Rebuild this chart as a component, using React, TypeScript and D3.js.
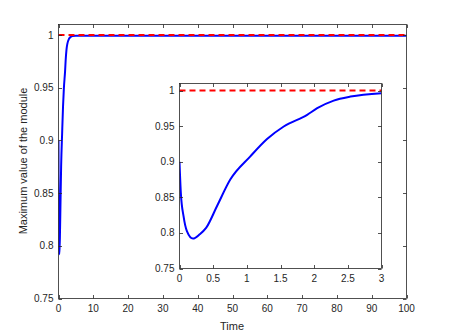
import React, { useEffect, useRef } from 'react';
import * as d3 from 'd3';

// maximum module over time
const times = [0, 0.02, 0.06, 0.11, 0.2, 0.3, 0.395, 0.556, 0.754, 1.052, 1.3, 1.548, 1.896, 2.045, 2.29, 2.54, 3, 3.5, 4, 5, 7, 10, 20, 50, 100];
const values = [0.9, 0.856, 0.8235, 0.8025, 0.792, 0.798, 0.807, 0.8375, 0.875, 0.9076, 0.932, 0.9496, 0.966, 0.9753, 0.986, 0.9916, 0.9963, 0.9982, 0.999, 0.9993, 0.9993, 0.9993, 0.9993, 0.9993, 0.9993];
const reference = 1;

const mainXTicks = [0, 10, 20, 30, 40, 50, 60, 70, 80, 90, 100];
const mainYTicks = [0.75, 0.8, 0.85, 0.9, 0.95, 1];
const insetXTicks = [0, 0.5, 1, 1.5, 2, 2.5, 3];
const insetYTicks = [0.75, 0.8, 0.85, 0.9, 0.95, 1];

const FONT = '"Liberation Sans", Arial, sans-serif';
const AXIS = '#262626';

const Chart = () => {
  const svgRef = useRef<SVGSVGElement>(null);

  useEffect(() => {
    const svg = d3.select(svgRef.current);
    svg.selectAll('*').remove();
    svg.append('rect').attr('width', 449).attr('height', 336).attr('fill', 'white');

    const data = times.map((t, i) => ({ t, v: values[i] }));

    const drawAxes = (opts: {
      left: number; right: number; top: number; bottom: number;
      xDomain: [number, number]; xTicks: number[]; yTicks: number[];
    }) => {
      const { left, right, top, bottom } = opts;
      const x = d3.scaleLinear().domain(opts.xDomain).range([left, right]);
      const y = d3.scaleLinear().domain([0.75, 1.01]).range([bottom, top]);
      const g = svg.append('g');
      g.append('rect')
        .attr('x', left).attr('y', top)
        .attr('width', right - left).attr('height', bottom - top)
        .attr('fill', 'white');

      const clipId = `clip-${Math.round(left)}`;
      svg.append('defs').append('clipPath').attr('id', clipId)
        .append('rect').attr('x', left).attr('y', top - 2)
        .attr('width', right - left).attr('height', bottom - top + 4);

      const xMax = opts.xDomain[1];
      const line = d3.line<{ t: number; v: number }>()
        .x(d => x(d.t)).y(d => y(d.v))
        .curve(d3.curveMonotoneX);
      g.append('path')
        .datum(data.filter(d => d.t <= xMax))
        .attr('d', line)
        .attr('fill', 'none')
        .attr('stroke', '#0000ff')
        .attr('stroke-width', 2)
        .attr('clip-path', `url(#${clipId})`);

      g.append('line')
        .attr('x1', left).attr('x2', right)
        .attr('y1', y(reference)).attr('y2', y(reference))
        .attr('stroke', '#ff0000')
        .attr('stroke-width', 2)
        .attr('stroke-dasharray', '6,4');

      const tl = 3.5;
      opts.xTicks.forEach(t => {
        const px = Math.round(x(t)) + 0.5;
        g.append('line').attr('x1', px).attr('x2', px).attr('y1', bottom).attr('y2', bottom - tl)
          .attr('stroke', AXIS).attr('stroke-width', 0.8);
        g.append('line').attr('x1', px).attr('x2', px).attr('y1', top).attr('y2', top + tl)
          .attr('stroke', AXIS).attr('stroke-width', 0.8);
        g.append('text').attr('x', x(t)).attr('y', bottom + 13)
          .attr('text-anchor', 'middle').attr('font-family', FONT).attr('font-size', 10)
          .attr('fill', AXIS).text(String(t));
      });
      opts.yTicks.forEach(v => {
        const py = Math.round(y(v)) + 0.5;
        g.append('line').attr('x1', left).attr('x2', left + tl).attr('y1', py).attr('y2', py)
          .attr('stroke', AXIS).attr('stroke-width', 0.8);
        g.append('line').attr('x1', right).attr('x2', right - tl).attr('y1', py).attr('y2', py)
          .attr('stroke', AXIS).attr('stroke-width', 0.8);
        g.append('text').attr('x', left - 5).attr('y', y(v) + 3.5)
          .attr('text-anchor', 'end').attr('font-family', FONT).attr('font-size', 10)
          .attr('fill', AXIS).text(String(v));
      });
      g.append('rect')
        .attr('x', left).attr('y', top)
        .attr('width', right - left).attr('height', bottom - top)
        .attr('fill', 'none').attr('stroke', AXIS).attr('stroke-width', 0.8);
    };

    drawAxes({
      left: 58.5, right: 406.5, top: 24.5, bottom: 298.5,
      xDomain: [0, 100], xTicks: mainXTicks, yTicks: mainYTicks,
    });

    svg.append('text')
      .attr('x', 232).attr('y', 330)
      .attr('text-anchor', 'middle').attr('font-family', FONT).attr('font-size', 11)
      .attr('fill', AXIS).text('Time');
    svg.append('text')
      .attr('transform', 'translate(27,161) rotate(-90)')
      .attr('text-anchor', 'middle').attr('font-family', FONT).attr('font-size', 11)
      .attr('fill', AXIS).text('Maximum value of the module');

    drawAxes({
      left: 179.5, right: 381.5, top: 83.5, bottom: 268.5,
      xDomain: [0, 3], xTicks: insetXTicks, yTicks: insetYTicks,
    });
  }, []);

  return (
    <svg
      ref={svgRef}
      width={449}
      height={336}
      style={{ position: 'absolute', left: 0, top: 0, display: 'block' }}
    />
  );
};

export default function App() {
  return <Chart />;
}
